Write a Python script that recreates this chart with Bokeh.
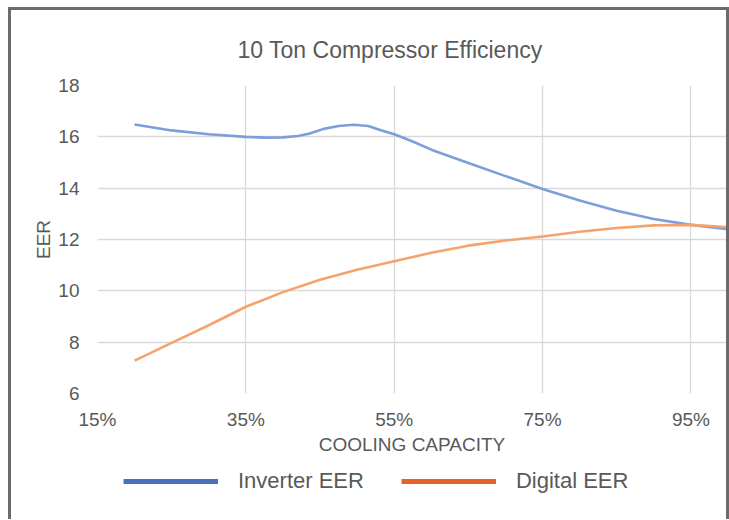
from bokeh.plotting import figure
from bokeh.layouts import column
from bokeh.models import Legend, LegendItem, FixedTicker, PrintfTickFormatter, Range1d
from bokeh.embed import file_html
from bokeh.resources import INLINE

# Data (cooling capacity %, EER)
inv_capacity = [20, 25, 30, 35, 37.5, 40, 42, 43.5, 45.5, 47.5, 49.5, 51.5, 53, 55, 57.5,
                60, 65, 70, 75, 80, 85, 90, 95, 100]
inverter_eer = [16.48, 16.25, 16.10, 16.00, 15.97, 15.98, 16.03, 16.12, 16.31, 16.42, 16.47,
                16.42, 16.28, 16.10, 15.82, 15.50, 14.98, 14.47, 13.97, 13.52, 13.12, 12.80,
                12.57, 12.40]
dig_capacity = [20, 25, 30, 35, 40, 45, 50, 55, 60, 65, 70, 75, 80, 85, 90, 95, 100]
digital_eer = [7.28, 7.97, 8.66, 9.38, 9.95, 10.43, 10.82, 11.15, 11.48, 11.76, 11.96,
               12.12, 12.30, 12.45, 12.55, 12.57, 12.48]
x_ticks = [15, 35, 55, 75, 95]
y_ticks = [6, 8, 10, 12, 14, 16, 18]
series_labels = ["Inverter EER", "Digital EER"]

FONT = "Liberation Sans"
TXT = "#595959"

p = figure(width=715, height=450, output_backend="svg", toolbar_location=None,
           x_range=Range1d(15, 99.8), y_range=Range1d(6, 18),
           min_border_left=86, min_border_right=0, min_border_top=75, min_border_bottom=67)

p.title.text = "10 Ton Compressor Efficiency"
p.title.text_font = FONT
p.title.text_font_size = "23px"
p.title.text_font_style = "normal"
p.title.text_color = TXT
p.title.align = "left"
p.title.offset = 140
p.title.standoff = 45

p.outline_line_color = None
p.background_fill_color = "white"

for ax in (p.xaxis, p.yaxis):
    ax.axis_line_color = None
    ax.major_tick_line_color = None
    ax.minor_tick_line_color = None
    ax.major_label_text_font = FONT
    ax.major_label_text_font_size = "19px"
    ax.major_label_text_color = TXT
    ax.axis_label_text_font = FONT
    ax.axis_label_text_font_size = "19px"
    ax.axis_label_text_font_style = "normal"
    ax.axis_label_text_color = TXT

p.xaxis.ticker = FixedTicker(ticks=x_ticks)
p.xaxis.formatter = PrintfTickFormatter(format="%d%%")
p.xaxis.axis_label = "COOLING CAPACITY"
p.xaxis.major_label_standoff = 9
p.xaxis.axis_label_standoff = 1

p.yaxis.ticker = FixedTicker(ticks=y_ticks)
p.yaxis.axis_label = "EER"
p.yaxis.major_label_standoff = 12
p.yaxis.axis_label_standoff = 1

p.xgrid.grid_line_color = "#d9d9d9"
p.ygrid.grid_line_color = "#d9d9d9"
p.xgrid.grid_line_width = 1.3
p.ygrid.grid_line_width = 1.3

p.line(inv_capacity, inverter_eer, line_color="#7e9ddb", line_width=2.6)
p.line(dig_capacity, digital_eer, line_color="#f5a36c", line_width=2.6)

# Legend strip below the chart
lf = figure(width=715, height=59, output_backend="svg", toolbar_location=None,
            x_axis_type=None, y_axis_type=None, x_range=Range1d(0, 1), y_range=Range1d(0, 1),
            min_border=0, min_border_left=0, min_border_right=0, min_border_top=0,
            min_border_bottom=0)
lf.outline_line_color = None
lf.xgrid.visible = False
lf.ygrid.visible = False

nan = float("nan")
leg_inv = lf.line(x=[nan], y=[nan], line_color="#4a72b8", line_width=5)
leg_dig = lf.line(x=[nan], y=[nan], line_color="#e5622a", line_width=5)

legend = Legend(items=[LegendItem(label=series_labels[0], renderers=[leg_inv]),
                       LegendItem(label=series_labels[1], renderers=[leg_dig])],
                orientation="horizontal", location=(26, 25),
                glyph_width=95, glyph_height=20, label_standoff=20, spacing=37,
                label_text_font=FONT, label_text_font_size="22px", label_text_color=TXT,
                border_line_color=None, background_fill_alpha=0, padding=0, margin=0)
lf.add_layout(legend)

layout = column(p, lf, spacing=0,
                styles={"margin-left": "8px", "margin-top": "7px",
                        "border-left": "3px solid #6b6b6b", "border-top": "3px solid #6b6b6b",
                        "border-right": "3px solid #6b6b6b"})

open("out.html", "w").write(file_html(layout, INLINE))
